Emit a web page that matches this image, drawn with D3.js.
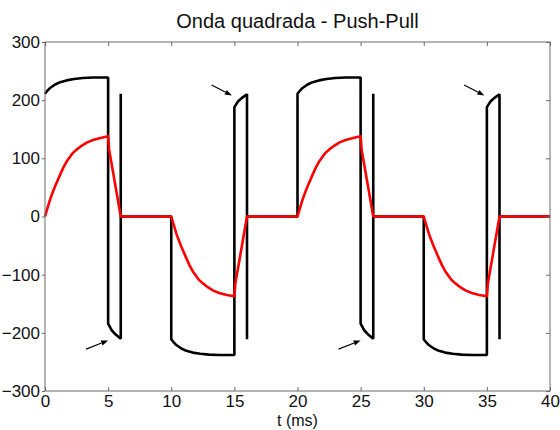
<!DOCTYPE html>
<html>
<head>
<meta charset="utf-8">
<script src="https://cdn.jsdelivr.net/npm/d3@7"></script>
<style>
  html, body { margin: 0; padding: 0; background: #ffffff; }
  svg { display: block; font-family: "Liberation Sans", Arial, sans-serif; }
</style>
</head>
<body>
<svg id="chart" width="560" height="430"></svg>
<script>
// ---- data ----
const titleText = "Onda quadrada - Push-Pull";
const xLabelText = "t (ms)";
const xTicks = [0, 5, 10, 15, 20, 25, 30, 35, 40];
const yTicks = [-300, -200, -100, 0, 100, 200, 300];

// black trace (time in ms, value)
const tBlack = [0, 0.2, 0.4, 0.8, 1.2, 1.7, 2.3, 3.0, 3.8, 5.0, 5.0, 5.3, 5.6, 6.0, 6.0, 6.0,
  10.0, 10.0, 10.2, 10.4, 10.8, 11.2, 11.7, 12.3, 13.0, 13.8, 15.0, 15.0, 15.3, 15.6, 16.0, 16.0, 16.0,
  20.0, 20.0, 20.2, 20.4, 20.8, 21.2, 21.7, 22.3, 23.0, 23.8, 25.0, 25.0, 25.3, 25.6, 26.0, 26.0, 26.0,
  30.0, 30.0, 30.2, 30.4, 30.8, 31.2, 31.7, 32.3, 33.0, 33.8, 35.0, 35.0, 35.3, 35.6, 36.0, 36.0, 36.0, 40.0];
const vBlack = [211, 216.5, 221, 227, 231, 234, 236.5, 238, 239, 239, -184, -196, -203, -210, 211, 0,
  0, -211, -216.5, -221, -227, -231, -234, -236, -237.5, -238, -238, 188, 198, 204, 210, -211, 0,
  0, 211, 216.5, 221, 227, 231, 234, 236.5, 238, 239, 239, -184, -196, -203, -210, 211, 0,
  0, -211, -216.5, -221, -227, -231, -234, -236, -237.5, -238, -238, 188, 198, 204, 210, -211, 0, 0];

// red trace
const tRed = [0, 0.2, 0.4, 0.6, 0.8, 1.0, 1.2, 1.45, 1.7, 2.0, 2.2, 2.5, 2.8, 3.3, 3.8, 4.4, 5.0, 5.08, 6.0,
  10.0, 10.2, 10.4, 10.6, 10.8, 11.0, 11.2, 11.45, 11.7, 12.0, 12.2, 12.5, 12.8, 13.3, 13.8, 14.4, 15.0, 15.08, 16.0,
  20.0, 20.2, 20.4, 20.6, 20.8, 21.0, 21.2, 21.45, 21.7, 22.0, 22.2, 22.5, 22.8, 23.3, 23.8, 24.4, 25.0, 25.08, 26.0,
  30.0, 30.2, 30.4, 30.6, 30.8, 31.0, 31.2, 31.45, 31.7, 32.0, 32.2, 32.5, 32.8, 33.3, 33.8, 34.4, 35.0, 35.08, 36.0, 40.0];
const vRed = [0, 15, 29, 41, 52, 62, 72, 84, 94, 103, 109, 115, 120, 127, 131.5, 135, 138, 115, 0,
  0, -15, -29, -41, -52, -62, -72, -84, -94, -103, -109, -115, -120, -127, -131.5, -135, -137, -115, 0,
  0, 15, 29, 41, 52, 62, 72, 84, 94, 103, 109, 115, 120, 127, 131.5, 135, 138, 115, 0,
  0, -15, -29, -41, -52, -62, -72, -84, -94, -103, -109, -115, -120, -127, -131.5, -135, -137, -115, 0, 0];

// annotation arrows (tail -> head, data coordinates)
const arrowTailT = [3.25, 13.2, 23.25, 33.2];
const arrowTailV = [-228, 226, -228, 226];
const arrowHeadT = [5.0, 14.8, 25.0, 34.8];
const arrowHeadV = [-213, 208, -213, 208];

// ---- layout ----
const svg = d3.select("#chart");
const mLeft = 45, mRight = 550, mTop = 42, mBottom = 391;
const x = d3.scaleLinear().domain([0, 40]).range([mLeft, mRight]);
const y = d3.scaleLinear().domain([-300, 300]).range([mBottom, mTop]);
const axisColor = "#6a6a6a";
const textColor = "#111";

// title
svg.append("text")
  .attr("x", (mLeft + mRight) / 2).attr("y", 28)
  .attr("text-anchor", "middle")
  .attr("font-size", 20).attr("fill", textColor)
  .text(titleText);

// traces
const blackData = tBlack.map((t, i) => [t, vBlack[i]]);
const redData = tRed.map((t, i) => [t, vRed[i]]);
const line = d3.line().x(d => x(d[0])).y(d => y(d[1]));

const plot = svg.append("g");
plot.append("path").datum(blackData)
  .attr("d", line).attr("fill", "none")
  .attr("stroke", "#000").attr("stroke-width", 2.6)
  .attr("stroke-linejoin", "bevel");
plot.append("path").datum(redData)
  .attr("d", line).attr("fill", "none")
  .attr("stroke", "#ff0000").attr("stroke-width", 2.6)
  .attr("stroke-linejoin", "round");

// arrows
arrowTailT.forEach((t0, i) => {
  const x0 = x(t0), y0 = y(arrowTailV[i]);
  const x1 = x(arrowHeadT[i]), y1 = y(arrowHeadV[i]);
  const ang = Math.atan2(y1 - y0, x1 - x0);
  const L = 7, W = 2.6;
  const bx = x1 - L * Math.cos(ang), by = y1 - L * Math.sin(ang);
  svg.append("line")
    .attr("x1", x0).attr("y1", y0).attr("x2", bx).attr("y2", by)
    .attr("stroke", "#000").attr("stroke-width", 1.2);
  const p1 = [bx + W * Math.sin(ang), by - W * Math.cos(ang)];
  const p2 = [bx - W * Math.sin(ang), by + W * Math.cos(ang)];
  svg.append("path")
    .attr("d", `M${x1},${y1}L${p1[0]},${p1[1]}L${p2[0]},${p2[1]}Z`)
    .attr("fill", "#000");
});

// axes
function styleAxis(g) {
  g.select(".domain").remove();
  g.selectAll(".tick line").attr("stroke", axisColor);
  g.selectAll(".tick text").attr("fill", textColor).attr("font-size", 17)
    .attr("font-family", "'Liberation Sans', Arial, sans-serif");
}
svg.append("g").attr("transform", `translate(0,${mBottom})`)
  .call(d3.axisBottom(x).tickValues(xTicks).tickSizeInner(-4).tickSizeOuter(0).tickPadding(4))
  .call(styleAxis);
svg.append("g").attr("transform", `translate(0,${mTop})`)
  .call(d3.axisTop(x).tickValues(xTicks).tickSizeInner(-4).tickSizeOuter(0).tickFormat(""))
  .call(styleAxis);
svg.append("g").attr("transform", `translate(${mLeft},0)`)
  .call(d3.axisLeft(y).tickValues(yTicks).tickSizeInner(3).tickSizeOuter(0).tickPadding(2))
  .call(styleAxis);
svg.append("g").attr("transform", `translate(${mRight},0)`)
  .call(d3.axisRight(y).tickValues(yTicks).tickSizeInner(-4).tickSizeOuter(0).tickFormat(""))
  .call(styleAxis);

// box
svg.append("rect")
  .attr("x", mLeft).attr("y", mTop)
  .attr("width", mRight - mLeft).attr("height", mBottom - mTop)
  .attr("fill", "none").attr("stroke", axisColor).attr("stroke-width", 1);

// x label
svg.append("text")
  .attr("x", (mLeft + mRight) / 2).attr("y", 426)
  .attr("text-anchor", "middle")
  .attr("font-size", 16).attr("fill", textColor)
  .text(xLabelText);
</script>
</body>
</html>
